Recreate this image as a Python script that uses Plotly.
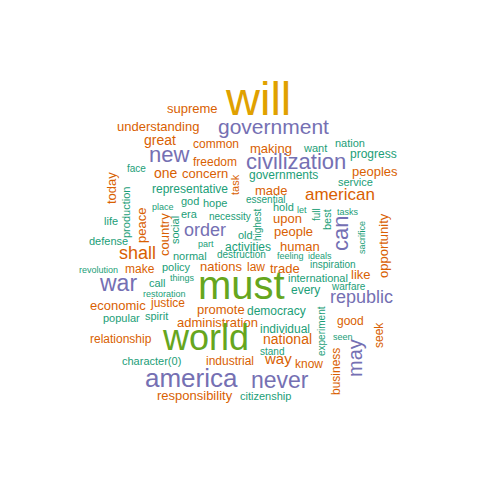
import plotly.graph_objects as go

O, P, G, L, Y = "#D95F02", "#7570B3", "#1B9E77", "#66A61E", "#E0A100"
words = ["will","supreme","understanding","government","great","common","making","want","nation","progress",
 "new","civilization","peoples","face","one","freedom","concern","governments","service","task",
 "today","production","peace","representative","made","american","god","hope","era","essential",
 "highest","country","social","place","part","necessity","old","hold","let","full",
 "best","tasks","can","opportunity","order","activities","upon","people","inspiration","life",
 "defense","shall","normal","things","call","policy","nations","human","sacrifice","warfare",
 "revolution","war","must","trade","international","like","every","make","restoration","justice",
 "economic","republic","promote","democracy","spirit","administration","popular","good","seek","relationship",
 "world","individual","seen","experiment","stand","national","may","character(0)","industrial","way",
 "know","business","america","never","responsibility","citizenship","law","feeling","ideals","destruction"]
xs = [250,184,150,265,152,208,263,307,342,365, 161,288,367,128,158,207,197,275,347,227,
 103,118,133,182,263,332,182,207,181,257, 249,156,167,155,198,222,237,275,294,308,
 319,340,332,375,197,240,279,285,325,103, 100,129,182,174,149,168,213,292,354,340,
 90,110,233,277,310,353,297,132,156,159, 110,353,213,268,148,209,113,342,371,113,
 197,277,335,313,264,279,347,143,222,270, 301,328,183,272,187,257,248,282,312,233]
ys = [98,102,120,122,134,138,142,142,137,148, 150,157,165,162,167,156,167,169,176,177,
 180,205,218,183,184,189,195,197,208,193, 217,227,222,200,237,210,229,201,203,207,
 212,205,226,238,225,241,212,225,258,215, 235,248,250,271,277,261,260,240,230,280,
 263,278,283,262,272,268,284,263,287,297, 299,292,303,305,310,316,312,315,327,333,
 335,323,330,323,345,333,350,355,355,353, 358,364,374,375,389,390,261,249,249,248]
sizes = [47,13,13,21,14,12,13,11,11,12, 22,22,13,10,14,12,13,12,11,11,
 13,11,13,12,13,17,11,11,11,10, 10,13,11,9,9,10,11,11,9,10,
 11,9,22,13,18,12,13,13,10,11, 11,18,11,9,11,11,13,13,9,10,
 9,23,40,13,11,13,12,12,9,12, 13,18,13,12,11,13,11,12,12,12,
 36,12,9,10,10,14,20,11,12,15, 12,12,26,23,13,11,12,9,9,10]
colors = [Y,O,O,P,O,O,O,G,G,G, P,P,O,G,O,O,O,G,G,O,
 O,G,O,G,O,O,G,G,G,G, G,O,G,G,G,G,G,G,G,G,
 G,G,P,O,P,G,O,O,G,G, G,O,G,G,G,G,O,O,G,G,
 G,P,L,O,G,O,G,O,G,O, O,P,O,G,G,O,G,O,O,O,
 L,G,G,G,G,O,P,G,O,O, O,O,P,P,O,G,O,G,G,G]
vertical = {"task","today","production","peace","highest","country","social","full","best","can",
 "opportunity","sacrifice","seek","experiment","may","business"}

fig = go.Figure()
fig.add_trace(go.Scatter(x=[0,480], y=[0,480], mode="markers", marker=dict(opacity=0), hoverinfo="skip"))
for w, x, y, s, c in zip(words, xs, ys, sizes, colors):
    v = w in vertical
    fig.add_annotation(x=x, y=y if v else y - 0.15 * s, text=w, showarrow=False, xref="x", yref="y",
                       textangle=-90 if v else 0,
                       font=dict(family="Liberation Sans, Arial", size=s, color=c))
fig.update_xaxes(range=[0,480], visible=False)
fig.update_yaxes(range=[480,0], visible=False)
fig.update_layout(width=480, height=480, margin=dict(l=0,r=0,t=0,b=0),
                  plot_bgcolor="white", paper_bgcolor="white", showlegend=False)
fig.write_html("out.html")
